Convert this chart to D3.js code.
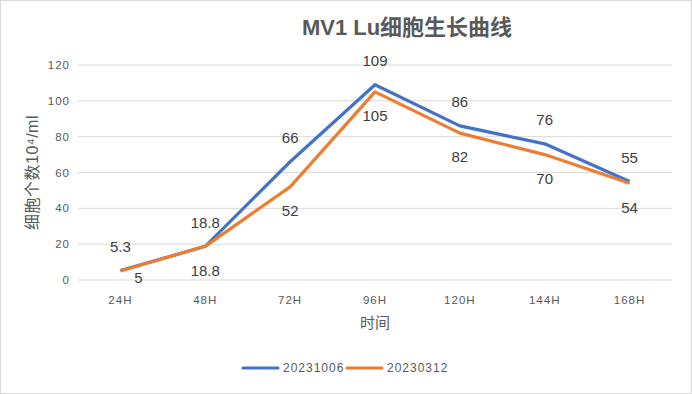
<!DOCTYPE html>
<html>
<head>
<meta charset="utf-8">
<script src="https://cdn.jsdelivr.net/npm/d3@7"></script>
<style>
  body { margin: 0; background: #fff; }
  text { font-family: "Liberation Sans", "Noto Sans CJK SC", sans-serif; }
</style>
</head>
<body>
<div id="chart"></div>
<script>
var width = 692,
    height = 394;

var categories = ["24H", "48H", "72H", "96H", "120H", "144H", "168H"];
var series1Name = "20231006";
var series1 = [5.3, 18.8, 66, 109, 86, 76, 55];
var series2Name = "20230312";
var series2 = [5, 18.8, 52, 105, 82, 70, 54];
var yTicks = [0, 20, 40, 60, 80, 100, 120];

var margin = {top: 65, right: 20, bottom: 114, left: 78};

var svg = d3.select("#chart").append("svg")
    .attr("width", width)
    .attr("height", height);

svg.append("rect")
    .attr("x", 0.5).attr("y", 0.5)
    .attr("width", width - 1).attr("height", height - 1)
    .attr("fill", "#fff")
    .attr("stroke", "#d9d9d9");

var x = d3.scalePoint()
    .domain(categories)
    .range([margin.left, width - margin.right])
    .padding(0.5);

var y = d3.scaleLinear()
    .domain([0, 120])
    .range([height - margin.bottom, margin.top]);

// gridlines
svg.append("g")
  .selectAll("line")
  .data(yTicks)
  .enter().append("line")
    .attr("x1", margin.left)
    .attr("x2", width - margin.right)
    .attr("y1", function(d) { return y(d); })
    .attr("y2", function(d) { return y(d); })
    .attr("stroke", "#d9d9d9")
    .attr("stroke-width", 1);

// y tick labels
svg.append("g")
  .selectAll("text")
  .data(yTicks)
  .enter().append("text")
    .attr("x", margin.left - 8)
    .attr("y", function(d) { return y(d); })
    .attr("dy", "0.35em")
    .attr("text-anchor", "end")
    .attr("font-size", "11.5px")
    .attr("letter-spacing", "1px")
    .attr("fill", "#595959")
    .text(function(d) { return d; });

// x tick labels
svg.append("g")
  .selectAll("text")
  .data(categories)
  .enter().append("text")
    .attr("x", function(d) { return x(d); })
    .attr("y", y(0) + 20)
    .attr("dy", "0.35em")
    .attr("text-anchor", "middle")
    .attr("font-size", "11.5px")
    .attr("letter-spacing", "1px")
    .attr("fill", "#595959")
    .text(function(d) { return d; });

// title
svg.append("text")
    .attr("x", 407)
    .attr("y", 27)
    .attr("dy", "0.35em")
    .attr("text-anchor", "middle")
    .attr("font-size", "22px")
    .attr("font-weight", "bold")
    .attr("fill", "#595959")
    .text("MV1 Lu细胞生长曲线");

// axis titles
svg.append("text")
    .attr("transform", "translate(32," + ((y(0) + y(120)) / 2) + ") rotate(-90)")
    .attr("dy", "0.35em")
    .attr("text-anchor", "middle")
    .attr("font-size", "16px")
    .attr("letter-spacing", "0.5px")
    .attr("fill", "#595959")
    .text("细胞个数10⁴/ml");

svg.append("text")
    .attr("x", (margin.left + width - margin.right) / 2)
    .attr("y", 323)
    .attr("dy", "0.35em")
    .attr("text-anchor", "middle")
    .attr("font-size", "15px")
    .attr("fill", "#595959")
    .text("时间");

var line = d3.line()
    .x(function(d, i) { return x(categories[i]); })
    .y(function(d) { return y(d); });

var seriesList = [
  {name: series1Name, values: series1, color: "#4472C4", above: true},
  {name: series2Name, values: series2, color: "#ED7D31", above: false}
];

seriesList.forEach(function(s) {
  svg.append("path")
      .datum(s.values)
      .attr("fill", "none")
      .attr("stroke", s.color)
      .attr("stroke-width", 3.2)
      .attr("stroke-linejoin", "round")
      .attr("d", line);
});

// data labels
seriesList.forEach(function(s) {
  svg.append("g")
    .selectAll("text")
    .data(s.values)
    .enter().append("text")
      .attr("x", function(d, i) {
        var px = x(categories[i]);
        if (!s.above && y(d) + 24 > y(0) - 4) px += 18; // pushed aside near axis
        return px;
      })
      .attr("y", function(d) {
        var ly = s.above ? y(d) - 24 : y(d) + 24;
        if (!s.above && ly > y(0) - 4) ly = y(0) - 2;
        return ly;
      })
      .attr("dy", "0.35em")
      .attr("text-anchor", "middle")
      .attr("font-size", "15px")
      .attr("fill", "#404040")
      .text(function(d) { return d; });
});

// legend
var legend = svg.append("g");
var legendX = [243, 347];
seriesList.forEach(function(s, i) {
  legend.append("line")
      .attr("x1", legendX[i]).attr("x2", legendX[i] + 35)
      .attr("y1", 368).attr("y2", 368)
      .attr("stroke", s.color)
      .attr("stroke-width", 3.2)
      .attr("stroke-linecap", "round");
  legend.append("text")
      .attr("x", legendX[i] + 40)
      .attr("y", 368)
      .attr("dy", "0.35em")
      .attr("font-size", "12px")
      .attr("letter-spacing", "1px")
      .attr("fill", "#595959")
      .text(s.name);
});
</script>
</body>
</html>
